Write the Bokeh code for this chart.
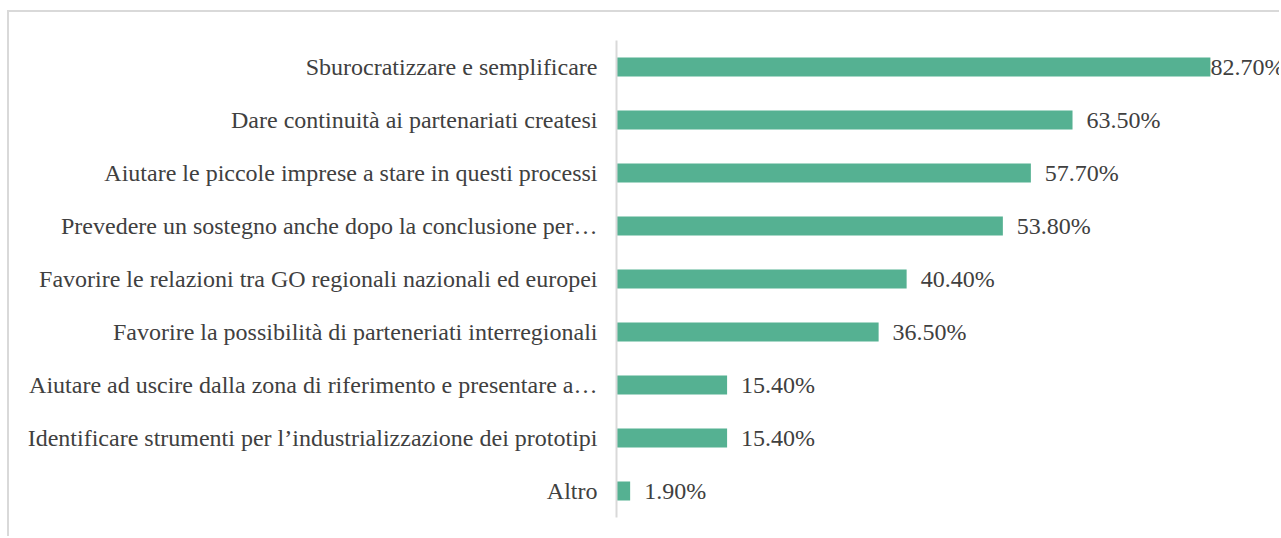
from bokeh.plotting import figure
from bokeh.models import FactorRange, Range1d, ColumnDataSource
from bokeh.embed import file_html
from bokeh.resources import INLINE
from bokeh.core.properties import value

categories = [
    "Sburocratizzare e semplificare",
    "Dare continuità ai partenariati createsi",
    "Aiutare le piccole imprese a stare in questi processi",
    "Prevedere un sostegno anche dopo la conclusione per…",
    "Favorire le relazioni tra GO regionali nazionali ed europei",
    "Favorire la possibilità di parteneriati interregionali",
    "Aiutare ad uscire dalla zona di riferimento e presentare a…",
    "Identificare strumenti per l’industrializzazione dei prototipi",
    "Altro",
]
values = [82.7, 63.5, 57.7, 53.8, 40.4, 36.5, 15.4, 15.4, 1.9]
value_labels = ["82.70%", "63.50%", "57.70%", "53.80%", "40.40%", "36.50%", "15.40%", "15.40%", "1.90%"]

FONT = value("Liberation Serif")
TEXT_COLOR = "#404040"
BAR_COLOR = "#55B192"
LINE_COLOR = "#d9d9d9"

offsets = [0 if v > 80 else 14 for v in values]
src = ColumnDataSource(dict(cat=categories, val=values, lab=value_labels, off=offsets))

p = figure(
    width=1272, height=526,
    y_range=FactorRange(factors=categories[::-1], range_padding=0),
    x_range=Range1d(0, 92.6),
    output_backend="svg", toolbar_location=None,
    min_border_left=607, min_border_top=28, min_border_bottom=21, min_border_right=0,
)
p.styles = {
    "border-left": "2px solid #d9d9d9",
    "border-top": "2px solid #d9d9d9",
    "margin-top": "10px",
    "margin-left": "7px",
}

p.hbar(y="cat", left=0, right="val", height=0.36, color=BAR_COLOR, line_color=None, source=src)
p.text(x="val", y="cat", text="lab", x_offset="off", text_baseline="middle", text_align="left",
       text_font=FONT, text_font_size="24px", text_color=TEXT_COLOR, source=src)

p.xaxis.visible = False
p.xgrid.visible = False
p.ygrid.visible = False
p.outline_line_color = None

ax = p.yaxis[0]
ax.axis_line_color = LINE_COLOR
ax.axis_line_width = 2
ax.major_tick_line_color = None
ax.minor_tick_line_color = None
ax.major_tick_out = 0
ax.major_tick_in = 0
ax.major_label_standoff = 19
ax.major_label_text_font = "Liberation Serif"
ax.major_label_text_font_size = "24px"
ax.major_label_text_color = TEXT_COLOR

open("out.html", "w").write(file_html(p, INLINE))
